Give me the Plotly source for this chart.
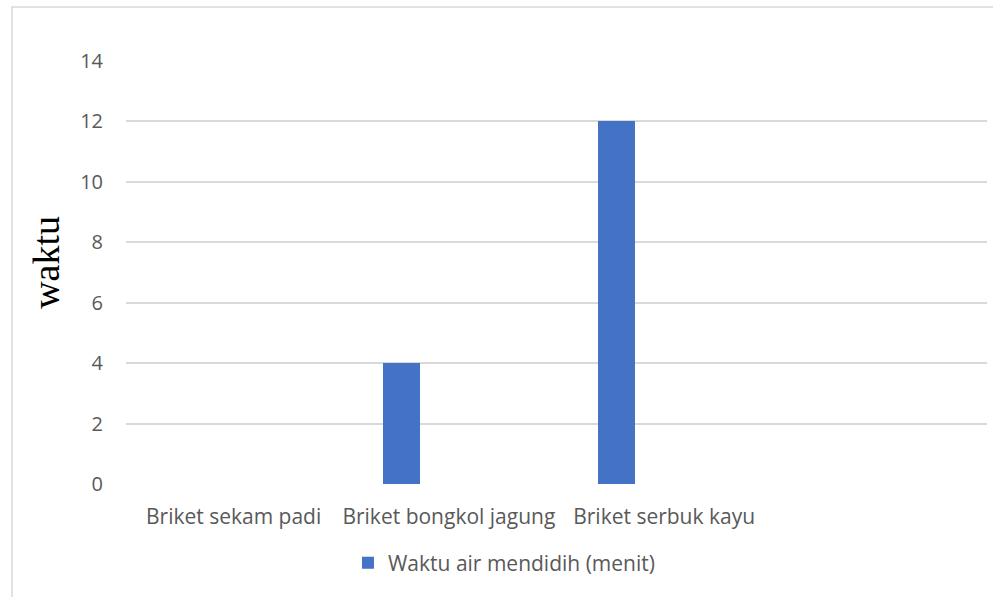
import plotly.graph_objects as go

categories = ["Briket sekam padi", "Briket bongkol jagung", "Briket serbuk kayu", " "]
waktu_values = [None, 4, 12, None]
series_name = "Waktu air mendidih (menit)"
y_ticks = [0, 2, 4, 6, 8, 10, 12, 14]
y_title = "waktu"

fig = go.Figure()
fig.add_trace(go.Bar(
    x=categories, y=waktu_values, name=series_name,
    marker=dict(color="#4472C4", line=dict(width=0)),
    width=0.174, offset=-0.308, showlegend=True,
))

font_main = "Open Sans, Noto Sans, sans-serif"
fig.update_layout(
    width=993, height=597,
    margin=dict(l=126, r=6, t=61, b=113),
    paper_bgcolor="white", plot_bgcolor="white",
    font=dict(family=font_main, color="#595959", size=20),
    xaxis=dict(
        type="category", categoryorder="array", categoryarray=categories,
        range=[-0.5, 3.5], showgrid=False, zeroline=False, showline=False,
        ticks="outside", ticklen=14, tickcolor="rgba(0,0,0,0)",
        tickfont=dict(size=21, color="#595959", family=font_main),
    ),
    yaxis=dict(
        range=[0, 14], tickvals=y_ticks, showgrid=True, gridcolor="#d9d9d9", gridwidth=1.5,
        zeroline=False, showline=False,
        ticks="outside", ticklen=18, tickcolor="rgba(0,0,0,0)",
        tickfont=dict(size=20, color="#595959", family=font_main),
    ),
    legend=dict(
        orientation="h", x=0.439, xanchor="center", y=-0.187, yanchor="middle",
        font=dict(size=21, color="#595959", family=font_main),
        itemwidth=30, bgcolor="rgba(0,0,0,0)",
    ),
    annotations=[dict(text=y_title, xref="paper", yref="paper", x=-0.093, y=0.525,
                      xanchor="center", yanchor="middle", textangle=-90, showarrow=False,
                      font=dict(family="Liberation Serif, serif", size=38, color="black"))],
    shapes=[dict(type="rect", xref="paper", yref="paper",
                 x0=-0.1324, x1=1.05, y0=-0.3, y1=1.1277,
                 line=dict(color="#d9d9d9", width=1.5), fillcolor="rgba(0,0,0,0)", layer="below")],
    bargap=0,
)
fig.write_html("out.html", config={"displayModeBar": False},
               post_script="document.body.style.margin='0';document.body.style.overflow='hidden';")
